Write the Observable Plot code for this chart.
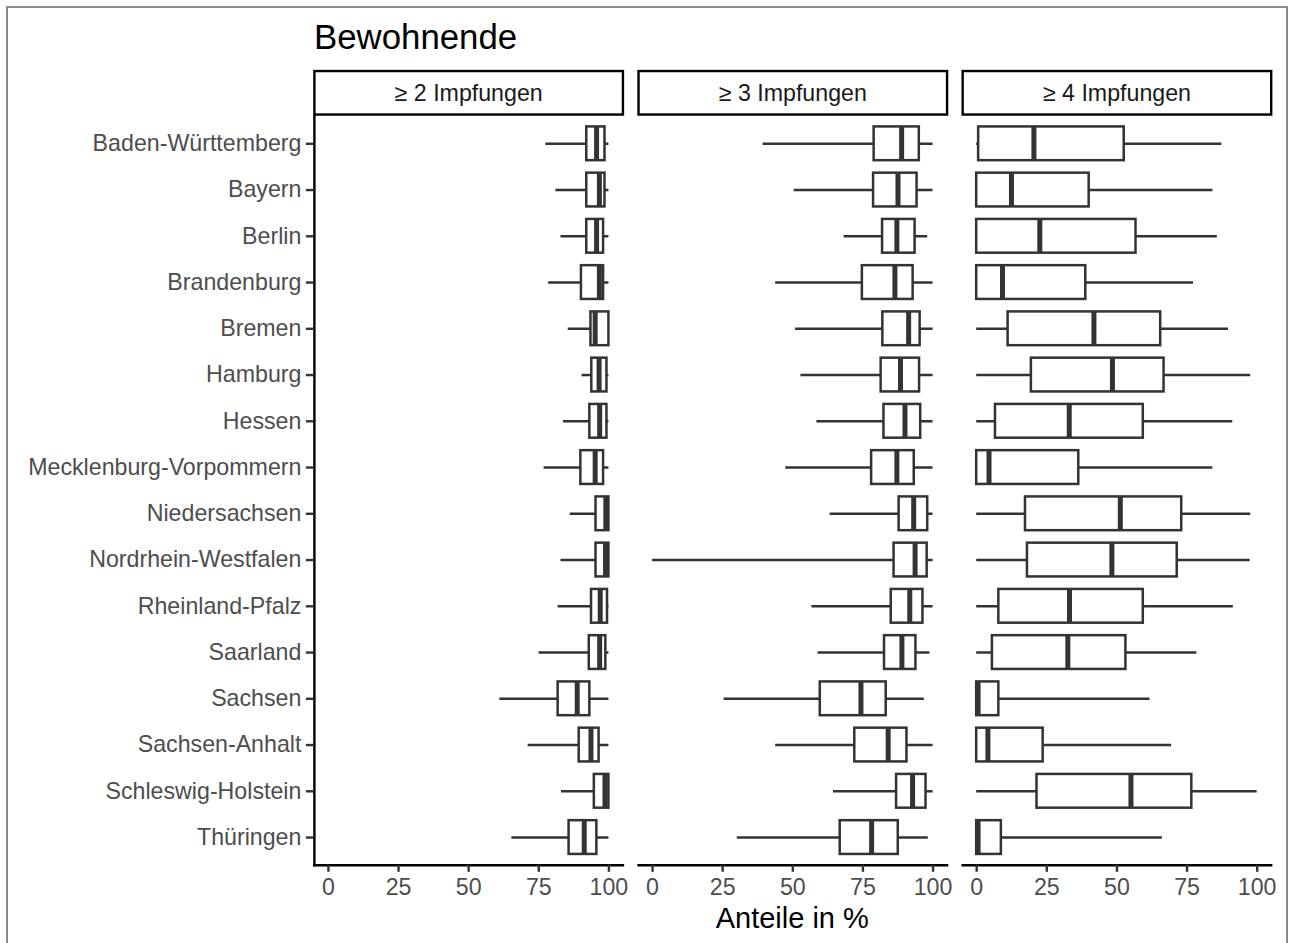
<!DOCTYPE html>
<html>
<head>
<meta charset="utf-8">
<script src="https://cdn.jsdelivr.net/npm/d3@7"></script>
<script src="https://cdn.jsdelivr.net/npm/@observablehq/plot@0.6"></script>
<style>
  html, body { margin: 0; padding: 0; background: #fff; overflow: hidden; }
  body { width: 1294px; height: 943px; position: relative; font-family: 'Liberation Sans', Arial, sans-serif; }
  #border { position: absolute; left: 6px; top: 6px; width: 1282px; height: 1000px; border: 2px solid #8a8a8a; box-sizing: border-box; pointer-events: none; }
  #title { position: relative; height: 60px; }
  #title span { position: absolute; left: 314px; top: 20px; font-size: 34.8px; line-height: 1; color: #000; }
  #chart { height: 845px; }
  #chart svg { display: block; }
  #caption { margin-left: 313.9px; width: 956.8px; text-align: center; font-size: 29px; line-height: 1; margin-top: -1.5px; color: #000; }
</style>
</head>
<body>
<div id="border"></div>
<div id="title"><span>Bewohnende</span></div>
<div id="chart"></div>
<div id="caption">Anteile in %</div>
<script>
const states = ["Baden-Württemberg","Bayern","Berlin","Brandenburg","Bremen","Hamburg","Hessen","Mecklenburg-Vorpommern","Niedersachsen","Nordrhein-Westfalen","Rheinland-Pfalz","Saarland","Sachsen","Sachsen-Anhalt","Schleswig-Holstein","Thüringen"];
const facets = ["≥ 2 Impfungen", "≥ 3 Impfungen", "≥ 4 Impfungen"];
const xTicks = [0, 25, 50, 75, 100];

// ≥ 2 Impfungen
const min2 = [77.5, 81.1, 82.9, 78.5, 85.5, 90.4, 83.8, 76.9, 86.2, 82.9, 81.9, 75.1, 61.1, 71.2, 83.1, 65.4];
const q1_2 = [92.1, 92.1, 92.1, 90.2, 93.6, 93.9, 93.2, 90.0, 95.4, 95.4, 93.8, 93.0, 81.9, 89.4, 94.8, 85.8];
const med2 = [95.6, 96.6, 95.6, 96.6, 95.1, 96.5, 96.7, 95.1, 98.9, 98.8, 96.9, 96.7, 88.7, 93.6, 98.6, 91.2];
const q3_2 = [98.6, 98.6, 98.1, 98.1, 100, 99.3, 99.3, 98.1, 100, 100, 99.5, 98.9, 93.2, 96.5, 100, 95.7];
const max2 = [100, 100, 100, 100, 100, 100, 100, 100, 100, 100, 100, 100, 100, 100, 100, 100];

// ≥ 3 Impfungen
const min3 = [39.4, 50.5, 68.3, 43.9, 51.0, 52.9, 58.6, 47.5, 63.3, 0, 56.8, 59.0, 25.5, 43.9, 64.5, 30.2];
const q1_3 = [79.0, 78.8, 82.0, 74.8, 82.1, 81.5, 82.5, 78.1, 87.9, 86.1, 85.1, 82.7, 59.8, 72.1, 87.0, 66.9];
const med3 = [88.8, 87.5, 87.1, 86.4, 91.3, 88.4, 90.0, 87.1, 93.1, 93.6, 91.7, 88.9, 74.3, 84.0, 92.7, 78.1];
const q3_3 = [95.1, 94.3, 93.6, 92.9, 95.4, 95.2, 95.6, 93.3, 98.1, 97.9, 96.4, 93.9, 83.3, 90.7, 97.5, 87.6];
const max3 = [100, 100, 98.1, 100, 100, 100, 100, 100, 100, 100, 100, 98.9, 96.9, 100, 100, 98.3];

// ≥ 4 Impfungen
const min4 = [0, 0, 0, 0, 0, 0, 0, 0, 0, 0, 0, 0, 0, 0, 0, 0];
const q1_4 = [0.7, 0, 0, 0, 11.2, 19.5, 6.7, 0, 17.4, 18.1, 7.9, 5.6, 0, 0, 21.5, 0];
const med4 = [20.4, 12.4, 22.5, 9.2, 41.8, 48.4, 33.0, 4.4, 51.2, 48.2, 33.1, 32.5, 0.5, 4.0, 55.0, 0.5];
const q3_4 = [52.6, 40.1, 56.8, 38.9, 65.6, 66.8, 59.4, 36.4, 73.1, 71.5, 59.4, 53.2, 7.9, 23.7, 76.7, 8.8];
const max4 = [87.4, 84.2, 85.8, 77.3, 89.8, 97.7, 91.3, 84.2, 97.7, 97.5, 91.5, 78.5, 61.8, 69.5, 100, 66.2];

const series = [
  [min2, q1_2, med2, q3_2, max2],
  [min3, q1_3, med3, q3_3, max3],
  [min4, q1_4, med4, q3_4, max4]
];
const data = facets.flatMap((f, k) => states.map((s, i) => ({
  facet: f, state: s,
  min: series[k][0][i], q1: series[k][1][i], median: series[k][2][i], q3: series[k][3][i], max: series[k][4][i]
})));

const H = 845, MT = 55.55, MB = 40.2;
const panelH = H - MT - MB;

const chart = Plot.plot({
  width: 1294,
  height: H,
  marginLeft: 313.9,
  marginRight: 23.3,
  marginTop: MT,
  marginBottom: MB,
  style: {fontFamily: "'Liberation Sans', Arial, sans-serif", fontSize: "23.2px", background: "transparent", overflow: "visible"},
  fx: {domain: facets, paddingInner: 0.0481, paddingOuter: 0, round: false, axis: null, label: null},
  x: {domain: [-5, 105], label: null},
  y: {domain: states, paddingInner: 0.27, paddingOuter: 0.235, round: false, label: null},
  marks: [
    Plot.frame({insetTop: -45, insetBottom: panelH + 1.5, stroke: "#000", strokeWidth: 2.4, fill: "white"}),
    Plot.text(facets, {fx: d => d, text: d => d, frameAnchor: "top", dy: -22.5, lineAnchor: "middle", fontSize: 23.2, fill: "#1a1a1a"}),
    Plot.ruleY(data, {fx: "facet", y: "state", x1: "min", x2: "max", stroke: "#333", strokeWidth: 2.5}),
    Plot.barX(data, {fx: "facet", y: "state", x1: "q1", x2: "q3", fill: "white", stroke: "#333", strokeWidth: 2.5}),
    Plot.tickX(data, {fx: "facet", y: "state", x: "median", stroke: "#333", strokeWidth: 5}),
    Plot.frame({anchor: "bottom", stroke: "#000", strokeWidth: 2.4}),
    Plot.frame({anchor: "left", facetAnchor: "left", stroke: "#000", strokeWidth: 2.4}),
    Plot.axisX({ticks: xTicks, tickSize: 7, tickPadding: 6, fontSize: 23.2, fill: "#4d4d4d", stroke: "#333", strokeWidth: 2.4, label: null}),
    Plot.axisY({tickSize: 8, tickPadding: 5, fontSize: 23.2, fill: "#4d4d4d", stroke: "#333", strokeWidth: 2.4, label: null})
  ]
});
document.getElementById("chart").appendChild(chart);
</script>
</body>
</html>
